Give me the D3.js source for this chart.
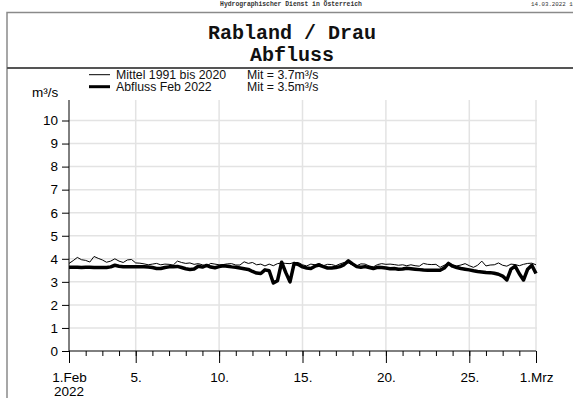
<!DOCTYPE html>
<html><head><meta charset="utf-8">
<script src="https://cdn.jsdelivr.net/npm/d3@7"></script>
<style>
html,body{margin:0;padding:0;background:#fff;overflow:hidden;}
svg{display:block;}
</style></head>
<body>
<script>
// ---- data (6-hour steps from 1.Feb 00:00) ----
const stepDays = 0.25;
const mittel = [3.80,3.92,4.06,3.96,3.93,3.86,4.10,4.02,3.95,3.85,3.90,4.00,3.90,3.84,3.95,3.97,
3.82,3.81,3.78,3.74,3.77,3.80,3.74,3.77,3.76,3.73,3.90,3.84,3.80,3.82,3.76,3.79,
3.74,3.69,3.80,3.77,3.74,3.75,3.78,3.79,3.73,3.73,3.87,3.80,3.84,3.74,3.77,3.69,
3.77,3.70,3.79,3.82,3.80,3.79,3.84,3.84,3.74,3.69,3.77,3.74,3.80,3.70,3.76,3.75,
3.70,3.78,3.84,3.82,3.73,3.70,3.78,3.77,3.69,3.65,3.75,3.79,3.76,3.77,3.75,3.72,
3.74,3.70,3.74,3.70,3.68,3.80,3.76,3.75,3.76,3.63,3.72,3.82,3.74,3.69,3.73,3.79,
3.70,3.63,3.72,3.90,3.69,3.73,3.74,3.82,3.72,3.68,3.77,3.75,3.70,3.76,3.80,3.81,3.74];
const abfluss = [3.63,3.63,3.63,3.62,3.63,3.63,3.62,3.62,3.62,3.62,3.65,3.72,3.68,3.66,3.66,3.65,
3.65,3.65,3.65,3.64,3.62,3.58,3.58,3.62,3.65,3.66,3.67,3.62,3.57,3.54,3.56,3.68,
3.64,3.71,3.64,3.61,3.66,3.70,3.68,3.65,3.63,3.60,3.57,3.54,3.45,3.38,3.36,3.52,
3.48,2.95,3.05,3.85,3.40,3.00,3.80,3.75,3.65,3.60,3.58,3.68,3.73,3.66,3.60,3.60,
3.62,3.66,3.75,3.91,3.78,3.66,3.63,3.66,3.62,3.58,3.63,3.62,3.60,3.57,3.58,3.55,
3.56,3.59,3.57,3.55,3.53,3.51,3.50,3.50,3.50,3.50,3.60,3.80,3.68,3.62,3.58,3.55,
3.52,3.48,3.45,3.43,3.41,3.40,3.37,3.33,3.25,3.08,3.55,3.68,3.35,3.08,3.55,3.72,3.36];
const yTicks = [0,1,2,3,4,5,6,7,8,9,10];
const xMajorDays = [0,4,9,14,19,24,28];
const xMajorLabels = ["1.Feb","5.","10.","15.","20.","25.","1.Mrz"];
const yearLabel = "2022";
const legendNames = ["Mittel 1991 bis 2020","Abfluss Feb 2022"];
const legendMeans = ["Mit = 3.7m³/s","Mit = 3.5m³/s"];
const titleLines = ["Rabland / Drau","Abfluss"];
const headerText = "Hydrographischer Dienst in Österreich";
const dateText = "14.03.2022 10:";
const unitLabel = "m³/s";

const W = 573, H = 398;
const svg = d3.select("body").append("svg").attr("width",W).attr("height",H);

// frame
svg.append("rect").attr("x",7).attr("y",12.5).attr("width",620).attr("height",450)
  .attr("fill","none").attr("stroke","#8a8a8a").attr("stroke-width",1.5);
svg.append("line").attr("x1",7).attr("x2",W).attr("y1",68).attr("y2",68)
  .attr("stroke","#555").attr("stroke-width",2);

// header
svg.append("text").attr("x",291).attr("y",6).attr("text-anchor","middle")
  .attr("font-family","Liberation Mono").attr("font-weight","bold").attr("font-size",6.4)
  .attr("fill","#333").text(headerText);
svg.append("text").attr("x",531).attr("y",6)
  .attr("font-family","Liberation Mono").attr("font-size",5.8)
  .attr("fill","#333").text(dateText);

// title
svg.append("text").attr("x",292).attr("y",39).attr("text-anchor","middle")
  .attr("font-family","Liberation Mono").attr("font-weight","bold").attr("font-size",20)
  .attr("fill","#111").text(titleLines[0]);
svg.append("text").attr("x",292).attr("y",61).attr("text-anchor","middle")
  .attr("font-family","Liberation Mono").attr("font-weight","bold").attr("font-size",20)
  .attr("fill","#111").text(titleLines[1]);

// scales
const x = d3.scaleLinear().domain([0,28]).range([69,536]);
const y = d3.scaleLinear().domain([0,10]).range([351,120.5]);
const plotTop = 100;

// grid
const g = svg.append("g");
g.selectAll(".hg").data(yTicks.filter(d=>d>0)).enter().append("line")
  .attr("x1",x(0)).attr("x2",x(28)+1).attr("y1",d=>y(d)).attr("y2",d=>y(d))
  .attr("stroke","#e3e3e3").attr("stroke-width",1.5);
g.selectAll(".vg").data(xMajorDays.filter(d=>d>0)).enter().append("line")
  .attr("x1",d=>x(d)).attr("x2",d=>x(d)).attr("y1",plotTop).attr("y2",y(0))
  .attr("stroke","#e3e3e3").attr("stroke-width",1.5);

// lines
const line = d3.line().x((d,i)=>x(i*stepDays)).y(d=>y(d));
svg.append("path").datum(mittel).attr("d",line).attr("fill","none")
  .attr("stroke","#000").attr("stroke-width",1).attr("stroke-linejoin","round");
svg.append("path").datum(abfluss).attr("d",line).attr("fill","none")
  .attr("stroke","#000").attr("stroke-width",3.5).attr("stroke-linejoin","round");

// y axis
const yAxis = d3.axisLeft(y).tickValues(yTicks).tickSize(7).tickPadding(4).tickFormat(d3.format("d"));
const ya = svg.append("g").attr("transform",`translate(${x(0)},0)`).call(yAxis);
ya.select(".domain").remove();
ya.selectAll("text").attr("font-family","Liberation Sans")
  .attr("font-size",13.5).attr("fill","#000");
svg.append("line").attr("x1",x(0)).attr("x2",x(0)).attr("y1",plotTop).attr("y2",y(0))
  .attr("stroke","#000").attr("stroke-width",1);

// x axis minor
const days = d3.range(0,29);
const xMinor = d3.axisBottom(x).tickValues(days).tickSize(5).tickFormat("");
const xm = svg.append("g").attr("transform",`translate(0,${y(0)})`).call(xMinor);
xm.select(".domain").remove();
const xMajor = d3.axisBottom(x).tickValues(xMajorDays).tickSize(12).tickPadding(9)
  .tickFormat((d,i)=>xMajorLabels[i]);
const xa = svg.append("g").attr("transform",`translate(0,${y(0)})`).call(xMajor);
xa.select(".domain").remove();
xa.selectAll("text").attr("font-family","Liberation Sans")
  .attr("font-size",13.5).attr("fill","#000");
svg.append("line").attr("x1",x(0)).attr("x2",x(28)).attr("y1",y(0)).attr("y2",y(0))
  .attr("stroke","#000").attr("stroke-width",1);
svg.append("text").attr("x",x(0)).attr("y",396).attr("text-anchor","middle")
  .attr("font-family","Liberation Sans").attr("font-size",13.5)
  .attr("fill","#000").text(yearLabel);

// unit
svg.append("text").attr("x",32).attr("y",97)
  .attr("font-family","Liberation Sans").attr("font-size",13.5)
  .attr("fill","#000").text(unitLabel);

// legend
const lw = [1,3];
legendNames.forEach((n,i)=>{
  const ly = 74.7 + i*12;
  svg.append("line").attr("x1",89).attr("x2",110).attr("y1",ly).attr("y2",ly)
    .attr("stroke","#000").attr("stroke-width",lw[i]);
  svg.append("text").attr("x",116).attr("y",ly+4.3)
    .attr("font-family","Liberation Sans").attr("font-size",12.3).attr("fill","#111").text(n);
  svg.append("text").attr("x",247).attr("y",ly+4.3)
    .attr("font-family","Liberation Sans").attr("font-size",12.3).attr("fill","#111").text(legendMeans[i]);
});
</script>
</body></html>
